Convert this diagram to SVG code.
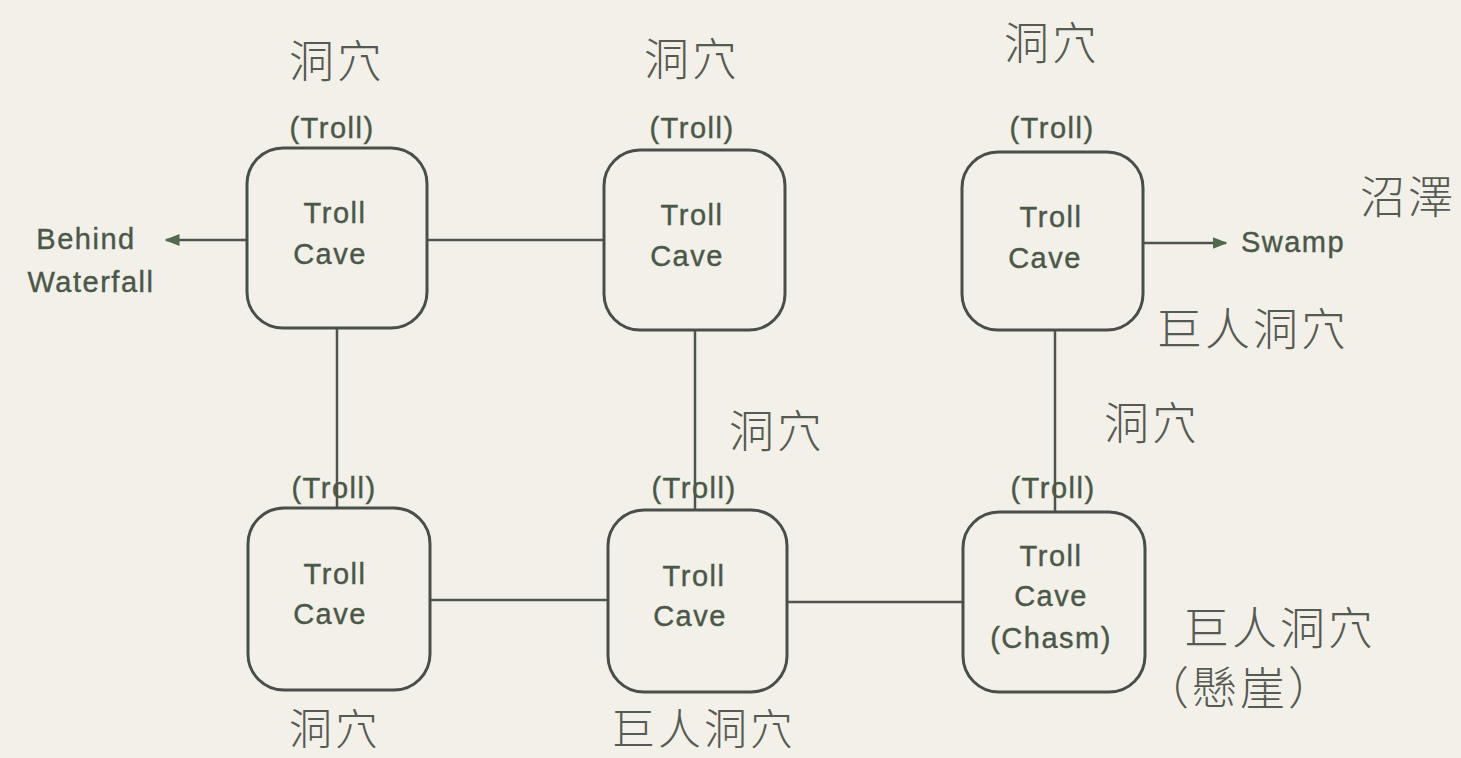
<svg xmlns="http://www.w3.org/2000/svg" width="1461" height="758" viewBox="0 0 1461 758">
<defs>
<style>
.bg{fill:#f2f0e8}
.box{fill:none;stroke:#4a4e48;stroke-width:3}
.ln{stroke:#4f544d;stroke-width:2.5;fill:none}
.en{font-family:"Liberation Sans",Arial,sans-serif;font-size:29px;letter-spacing:1.5px;fill:#4a5848;stroke:#4a5848;stroke-width:0.4px;text-anchor:middle}
.cn{font-family:"Noto Sans CJK TC","Noto Sans CJK SC",sans-serif;font-size:45px;font-weight:300;letter-spacing:3px;fill:#555a52;text-anchor:middle}
.cnb{font-size:43px}
</style>
<marker id="ah" viewBox="0 0 10 10" refX="9" refY="5" markerWidth="6" markerHeight="6" orient="auto-start-reverse">
<path d="M0,1 L10,5 L0,9 Z" fill="#4f6a4d"/>
</marker>
</defs>
<rect class="bg" width="1461" height="758"/>
<g id="connectors">
<line class="ln" x1="247" y1="240" x2="166" y2="240" marker-end="url(#ah)"/>
<line class="ln" x1="427" y1="240" x2="604" y2="240"/>
<line class="ln" x1="1143" y1="243" x2="1226" y2="243" marker-end="url(#ah)"/>
<line class="ln" x1="337" y1="328" x2="337" y2="508"/>
<line class="ln" x1="695" y1="330" x2="695" y2="510"/>
<line class="ln" x1="1055" y1="330" x2="1055" y2="512"/>
<line class="ln" x1="430" y1="600" x2="608" y2="600"/>
<line class="ln" x1="787" y1="602" x2="963" y2="602"/>
</g>
<g id="n1">
<rect class="box" x="247" y="148" width="180" height="180" rx="36"/>
<text class="en" x="335" y="223">Troll</text>
<text class="en" x="330" y="264">Cave</text>
<text class="en" x="332" y="138">(Troll)</text>
<text class="cn" x="337" y="78">洞穴</text>
</g>
<g id="n2">
<rect class="box" x="604" y="150" width="181" height="180" rx="36"/>
<text class="en" x="692" y="225">Troll</text>
<text class="en" x="687" y="266">Cave</text>
<text class="en" x="692" y="138">(Troll)</text>
<text class="cn" x="692" y="76">洞穴</text>
</g>
<g id="n3">
<rect class="box" x="962" y="152" width="181" height="178" rx="36"/>
<text class="en" x="1051" y="227">Troll</text>
<text class="en" x="1045" y="268">Cave</text>
<text class="en" x="1052" y="138">(Troll)</text>
<text class="cn" x="1052" y="60">洞穴</text>
</g>
<g id="n4">
<rect class="box" x="248" y="508" width="182" height="182" rx="36"/>
<text class="en" x="335" y="584">Troll</text>
<text class="en" x="330" y="624">Cave</text>
<text class="en" x="334" y="498">(Troll)</text>
<text class="cn cnb" x="335" y="745">洞穴</text>
</g>
<g id="n5">
<rect class="box" x="608" y="510" width="179" height="182" rx="36"/>
<text class="en" x="694" y="586">Troll</text>
<text class="en" x="690" y="626">Cave</text>
<text class="en" x="694" y="498">(Troll)</text>
<text class="cn cnb" x="704" y="745">巨人洞穴</text>
</g>
<g id="n6">
<rect class="box" x="963" y="512" width="182" height="180" rx="36"/>
<text class="en" x="1051" y="566">Troll</text>
<text class="en" x="1051" y="606">Cave</text>
<text class="en" x="1051" y="648">(Chasm)</text>
<text class="en" x="1053" y="498">(Troll)</text>
</g>
<g id="labels">
<text class="en" x="86" y="249">Behind</text>
<text class="en" x="91" y="292">Waterfall</text>
<text class="en" x="1293" y="252">Swamp</text>
<text class="cn" x="1408" y="214">沼澤</text>
<text class="cn" x="1253" y="346">巨人洞穴</text>
<text class="cn" x="777" y="448">洞穴</text>
<text class="cn" x="1152" y="440">洞穴</text>
<text class="cn" x="1280" y="645">巨人洞穴</text>
<text class="cn" x="1240" y="705">（懸崖）</text>
</g>
</svg>
